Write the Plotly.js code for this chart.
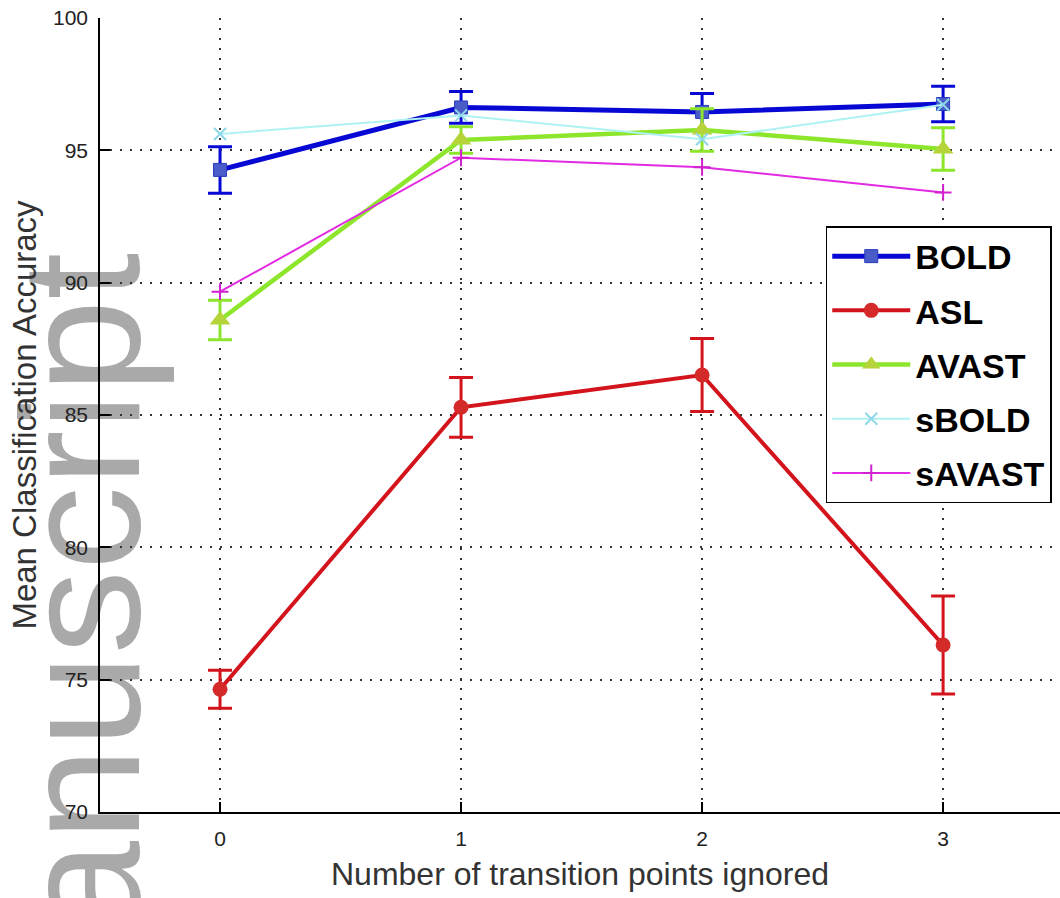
<!DOCTYPE html>
<html><head><meta charset="utf-8">
<script src="https://cdn.plot.ly/plotly-3.0.1.min.js"></script>
<style>html,body{margin:0;padding:0;background:#fff;overflow:hidden}</style>
</head><body><div id="chart" style="width:1060px;height:898px"></div>
<script>
const pointsIgnored = [0, 1, 2, 3];
const xTickLabels = ['0', '1', '2', '3'];
const yTickVals = [70, 75, 80, 85, 90, 95, 100];
const seriesNames = ['BOLD', 'ASL', 'AVAST', 'sBOLD', 'sAVAST'];
const boldMean = [94.26, 96.62, 96.45, 96.75];
const boldErr = [0.88, 0.6, 0.7, 0.67];
const aslMean = [74.64, 85.29, 86.51, 76.31];
const aslErr = [0.72, 1.13, 1.38, 1.85];
const avastMean = [88.59, 95.39, 95.77, 95.05];
const avastErr = [0.75, 0.5, 0.8, 0.8];
const sboldMean = [95.62, 96.32, 95.42, 96.72];
const savastMean = [89.66, 94.72, 94.36, 93.41];
const watermarkText = 'anuscript';

const FONT = 'Liberation Sans, Arial, Helvetica, sans-serif';

function errTrace(name, y, err, color, lw, marker) {
  const t = {
    x: pointsIgnored, y: y, name: name, legendgroup: name,
    type: 'scatter', mode: 'lines+markers',
    line: {color: color, width: lw},
    marker: marker, cliponaxis: false
  };
  if (err) t.error_y = {type: 'data', array: err, visible: true, color: color, thickness: 3, width: 12};
  return t;
}

const traces = [
  errTrace(seriesNames[0], boldMean, boldErr, '#0808d4', 5, {symbol: 'square', size: 13, color: '#4a5cc8', line: {color: '#2a3cc0', width: 1}}),
  errTrace(seriesNames[1], aslMean, aslErr, '#d4141c', 4, {symbol: 'circle', size: 15, color: '#d42a2a'}),
  errTrace(seriesNames[2], avastMean, avastErr, '#8ee62c', 4.5, {symbol: 'triangle-up', size: 18, color: '#b4d43a'}),
  errTrace(seriesNames[3], sboldMean, null, '#aef2f4', 2, {symbol: 'x-thin', size: 12, color: '#8fd8e8', line: {color: '#8fd8e8', width: 2}}),
  errTrace(seriesNames[4], savastMean, null, '#e22ae2', 2, {symbol: 'cross-thin', size: 12, color: '#d020d0', line: {color: '#d020d0', width: 2}})
];

const xr = [-0.498, 3.485];
const layout = {
  width: 1060, height: 898,
  margin: {l: 100, r: 0, t: 18, b: 86, pad: 0},
  paper_bgcolor: 'rgba(0,0,0,0)',
  plot_bgcolor: 'rgba(0,0,0,0)',
  showlegend: true,
  font: {family: FONT, color: '#222'},
  xaxis: {
    range: xr, tickvals: pointsIgnored, ticktext: xTickLabels,
    ticks: 'inside', ticklen: 10, tickwidth: 1.5, tickcolor: '#000',
    showline: true, linecolor: '#000', linewidth: 1.5,
    showgrid: true, gridcolor: '#333', gridwidth: 1.5, griddash: '2px,8px',
    zeroline: false, ticklabelstandoff: 7,
    tickfont: {family: FONT, size: 21, color: '#222'},
    title: {text: 'Number of transition points ignored', font: {family: FONT, size: 32, color: '#333'}, standoff: 14}
  },
  xaxis2: {
    range: xr, tickvals: pointsIgnored, overlaying: 'x', side: 'top', anchor: 'y',
    ticks: 'inside', ticklen: 10, tickwidth: 1.5, tickcolor: '#000',
    showline: true, linecolor: '#000', linewidth: 1.5,
    showgrid: false, zeroline: false, showticklabels: false
  },
  yaxis: {
    range: [70, 100], tickvals: yTickVals,
    ticks: 'inside', ticklen: 10, tickwidth: 1.5, tickcolor: '#000',
    showline: true, linecolor: '#000', linewidth: 1.5,
    showgrid: true, gridcolor: '#333', gridwidth: 1.5, griddash: '2px,8px',
    zeroline: false, ticklabelstandoff: 6,
    tickfont: {family: FONT, size: 21, color: '#222'},
    title: {text: 'Mean Classification Accuracy', font: {family: FONT, size: 33, color: '#333'}, standoff: 6}
  },
  legend: {
    x: 0.756, y: 0.738, xanchor: 'left', yanchor: 'top',
    bgcolor: '#fff', bordercolor: '#000', borderwidth: 1.5,
    font: {family: FONT, size: 34, color: '#000', weight: 'bold'},
    itemwidth: 78, traceorder: 'grouped', tracegroupgap: 7
  },
  annotations: [{
    text: watermarkText, xref: 'paper', yref: 'paper', x: -0.0198, y: 0.2752,
    xanchor: 'center', yanchor: 'middle', textangle: -90, showarrow: false,
    font: {family: FONT, size: 168, color: '#a9a9a9'}
  }]
};

Plotly.newPlot('chart', traces, layout, {displayModeBar: false, responsive: false}).then(function (gd) {
  try {
    const ann = gd.querySelector('.infolayer .annotation');
    const svg = gd.querySelector('.main-svg');
    if (ann && svg) svg.insertBefore(ann, svg.firstChild ? svg.firstChild.nextSibling : null);
  } catch (e) {}
});
</script>
</body></html>
